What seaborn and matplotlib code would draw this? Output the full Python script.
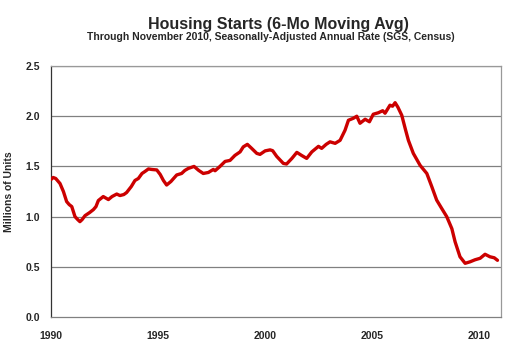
import matplotlib
matplotlib.use('Agg')
import matplotlib.pyplot as plt
from matplotlib.ticker import MultipleLocator
import seaborn as sns
import pandas as pd

# 6-month moving average of housing starts (millions, SAAR)
years = [1990.00, 1990.10, 1990.22, 1990.42, 1990.58, 1990.73, 1990.85, 1990.97,
         1991.12, 1991.25, 1991.35, 1991.45, 1991.59, 1991.80, 1991.98, 1992.10,
         1992.21, 1992.44, 1992.68, 1992.85, 1993.07, 1993.22, 1993.40, 1993.53,
         1993.75, 1993.92, 1994.08, 1994.25, 1994.39, 1994.55, 1994.70, 1994.94,
         1995.10, 1995.25, 1995.40, 1995.60, 1995.87, 1996.10, 1996.25, 1996.41,
         1996.68, 1996.90, 1997.11, 1997.35, 1997.58, 1997.66, 1997.89, 1998.13,
         1998.36, 1998.59, 1998.83, 1998.98, 1999.17, 1999.37, 1999.61, 1999.76,
         2000.00, 2000.23, 2000.35, 2000.54, 2000.85, 2001.00, 2001.25, 2001.48,
         2001.70, 2001.94, 2002.18, 2002.49, 2002.64, 2002.85, 2003.03, 2003.27,
         2003.50, 2003.73, 2003.89, 2004.12, 2004.28, 2004.43, 2004.67, 2004.87,
         2005.05, 2005.29, 2005.49, 2005.60, 2005.83, 2005.95, 2006.07, 2006.20,
         2006.38, 2006.55, 2006.69, 2006.92, 2007.24, 2007.55, 2007.78, 2008.01,
         2008.25, 2008.48, 2008.72, 2008.87, 2009.10, 2009.34, 2009.57, 2009.80,
         2010.04, 2010.27, 2010.50, 2010.70, 2010.85]
starts = [1.37, 1.39, 1.38, 1.33, 1.25, 1.15, 1.12, 1.10,
          1.00, 0.97, 0.95, 0.97, 1.01, 1.04, 1.07, 1.10,
          1.16, 1.20, 1.17, 1.20, 1.225, 1.21, 1.22, 1.24,
          1.30, 1.36, 1.38, 1.43, 1.45, 1.475, 1.47, 1.465,
          1.42, 1.36, 1.315, 1.35, 1.415, 1.43, 1.46, 1.48,
          1.50, 1.46, 1.43, 1.44, 1.47, 1.457, 1.50, 1.55,
          1.56, 1.61, 1.645, 1.695, 1.72, 1.68, 1.63, 1.62,
          1.655, 1.665, 1.657, 1.60, 1.53, 1.524, 1.58, 1.64,
          1.61, 1.58, 1.645, 1.70, 1.68, 1.72, 1.745, 1.73,
          1.76, 1.86, 1.96, 1.98, 2.00, 1.93, 1.97, 1.945,
          2.02, 2.035, 2.055, 2.03, 2.11, 2.10, 2.135, 2.09,
          2.01, 1.87, 1.76, 1.63, 1.51, 1.43, 1.30, 1.165,
          1.08, 1.00, 0.88, 0.75, 0.60, 0.535, 0.55, 0.57,
          0.585, 0.625, 0.60, 0.59, 0.565]
year_ticks = [1990, 1995, 2000, 2005, 2010]
y_ticks = [0.0, 0.5, 1.0, 1.5, 2.0, 2.5]

df = pd.DataFrame({'Year': years, 'Starts': starts})

sns.set_style('white')
plt.rcParams['font.family'] = ['Liberation Sans', 'DejaVu Sans']

fig = plt.figure(figsize=(5.08, 3.57), dpi=100)
ax = fig.add_axes([0.1004, 0.112, 0.8852, 0.703])

for v in y_ticks[1:]:
    ax.axhline(v, color='#808080', lw=0.9, zorder=1)

sns.lineplot(data=df, x='Year', y='Starts', color='#CC0000', lw=2.4, ax=ax, zorder=3)

ax.set_xlim(1990, 2011)
ax.set_ylim(0, 2.5)
ax.set_xticks(year_ticks)
ax.xaxis.set_minor_locator(MultipleLocator(1))
ax.set_yticks(y_ticks)
ax.set_yticklabels([f'{v:.1f}' for v in y_ticks], fontsize=7.5, fontweight='bold')
ax.set_xticklabels([str(y) for y in year_ticks], fontsize=7.5, fontweight='bold')
ax.tick_params(axis='both', which='both', direction='out', length=3, width=0.8,
               color='#555555', pad=5)
ax.tick_params(axis='x', pad=7)

ax.set_xlabel('')
ax.set_ylabel('Millions of Units', fontsize=7.5, fontweight='bold', labelpad=8)

ax.spines['left'].set_color('#333333')
ax.spines['bottom'].set_color('#808080')
ax.spines['top'].set_color('#999999')
ax.spines['right'].set_color('#999999')
for s in ax.spines.values():
    s.set_linewidth(0.9)

fig.text(0.548, 0.93, 'Housing Starts (6-Mo Moving Avg)', ha='center', va='center',
         fontsize=11.5, fontweight='bold')
fig.text(0.534, 0.895, 'Through November 2010, Seasonally-Adjusted Annual Rate (SGS, Census)',
         ha='center', va='center', fontsize=7.5, fontweight='bold')

fig.savefig('out.png', dpi=100)
